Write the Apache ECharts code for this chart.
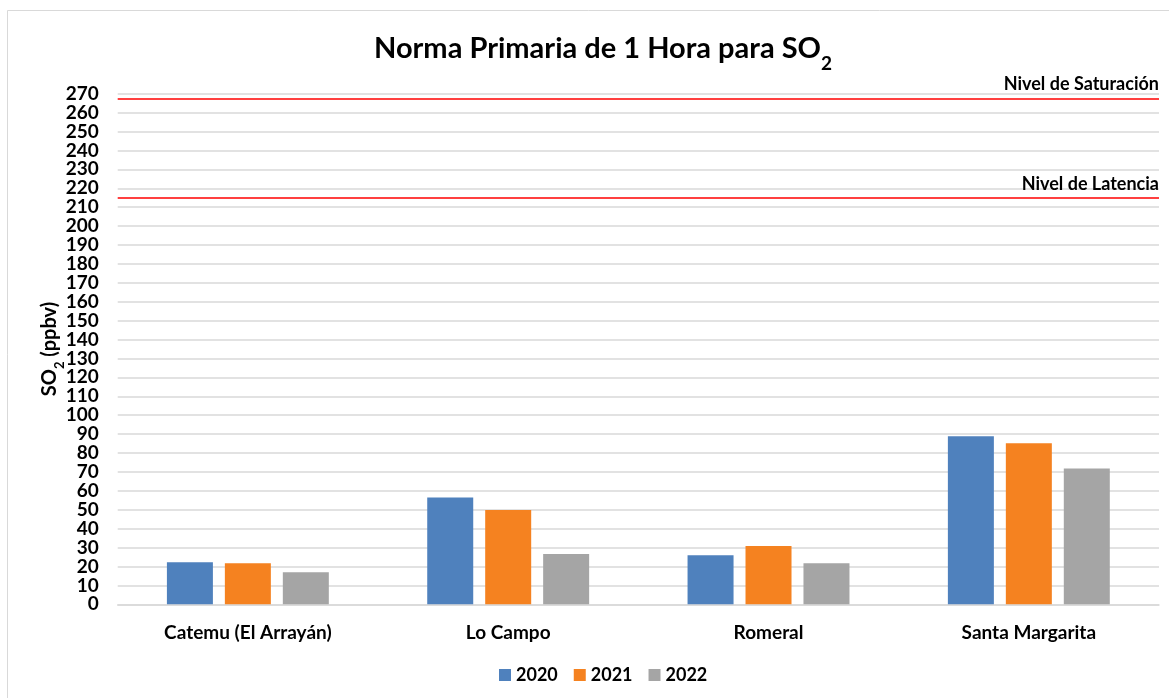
<!DOCTYPE html>
<html>
<head>
<meta charset="utf-8">
<script src="https://cdn.jsdelivr.net/npm/echarts@6/dist/echarts.min.js"></script>
<style>
  html, body { margin: 0; padding: 0; background: #fff; }
  #chart { width: 1169px; height: 698px; }
</style>
</head>
<body>
<div id="chart"></div>
<script>
// datos
const estaciones = ['Catemu (El Arrayán)', 'Lo Campo', 'Romeral', 'Santa Margarita']
const anios = ['2020', '2021', '2022']
const valores2020 = [22.2, 56.5, 26.0, 88.9]
const valores2021 = [21.7, 49.8, 30.8, 85.2]
const valores2022 = [16.9, 26.6, 21.7, 71.8]
const nivelSaturacion = 267.5
const nivelLatencia = 215
const colores = ['#4f81bd', '#f58220', '#a5a5a5']

const FONT = 'Lato'
const chart = echarts.init(document.getElementById('chart'))

const serieBarra = (nombre, datos, i) => ({
  name: nombre,
  type: 'bar',
  data: datos,
  barWidth: 46,
  barGap: '26%',
  itemStyle: { color: colores[i] },
  emphasis: { disabled: true }
})

const series = [
  serieBarra(anios[0], valores2020, 0),
  serieBarra(anios[1], valores2021, 1),
  serieBarra(anios[2], valores2022, 2)
]

// líneas de norma (saturación y latencia)
series[0].markLine = {
  silent: true,
  symbol: ['none', 'none'],
  lineStyle: { color: '#ff0000', width: 1.5, type: 'solid' },
  label: {
    position: 'insideEndTop',
    distance: [0, 5],
    color: '#000',
    fontFamily: FONT,
    fontWeight: 'bold',
    fontSize: 18
  },
  data: [
    { yAxis: nivelSaturacion, label: { formatter: 'Nivel de Saturación' } },
    { yAxis: nivelLatencia, label: { formatter: 'Nivel de Latencia' } }
  ]
}

chart.setOption({
  backgroundColor: '#fff',
  animation: false,
  textStyle: { fontFamily: FONT },
  graphic: [
    {
      type: 'rect',
      shape: { x: 7.5, y: 10.5, width: 1170, height: 700 },
      style: { fill: 'none', stroke: '#d9d9d9', lineWidth: 1 },
      silent: true
    }
  ],
  title: {
    text: '{a|Norma Primaria de 1 Hora para SO}{b|2}',
    left: 369,
    top: 29,
    textStyle: {
      rich: {
        a: { fontFamily: FONT, fontWeight: 'bold', fontSize: 29, color: '#000', lineHeight: 34, verticalAlign: 'top' },
        b: { fontFamily: FONT, fontWeight: 'bold', fontSize: 19, color: '#000', lineHeight: 19, padding: [20, 0, 0, 0], verticalAlign: 'top' }
      }
    }
  },
  legend: {
    bottom: 9,
    left: 494,
    itemWidth: 12,
    itemHeight: 12,
    itemGap: 16,
    icon: 'rect',
    selectedMode: false,
    textStyle: { fontFamily: FONT, fontWeight: 'bold', fontSize: 18, color: '#000' },
    data: anios
  },
  grid: { left: 117.7, right: 10, top: 93.7, bottom: 93.7 },
  xAxis: {
    type: 'category',
    data: estaciones,
    axisLine: { lineStyle: { color: '#d9d9d9', width: 1.5 } },
    axisTick: { show: false },
    axisLabel: { color: '#000', fontFamily: FONT, fontWeight: 'bold', fontSize: 19, margin: 19 }
  },
  yAxis: {
    type: 'value',
    min: 0,
    max: 270,
    interval: 10,
    name: '{a|SO}{b|2}{a| (ppbv)}',
    nameLocation: 'middle',
    nameRotate: 90,
    nameGap: 54,
    nameMoveOverlap: false,
    nameTextStyle: {
      rich: {
        a: { fontFamily: FONT, fontWeight: 'bold', fontSize: 20, color: '#000', lineHeight: 24, verticalAlign: 'top' },
        b: { fontFamily: FONT, fontWeight: 'bold', fontSize: 13, color: '#000', lineHeight: 13, padding: [14, 0, 0, 0], verticalAlign: 'top' }
      }
    },
    axisLine: { show: false },
    axisTick: { show: false },
    axisLabel: { color: '#000', fontFamily: FONT, fontWeight: 'bold', fontSize: 19, margin: 19 },
    splitLine: { lineStyle: { color: '#d9d9d9', width: 1.5 } }
  },
  series
})
</script>
</body>
</html>
